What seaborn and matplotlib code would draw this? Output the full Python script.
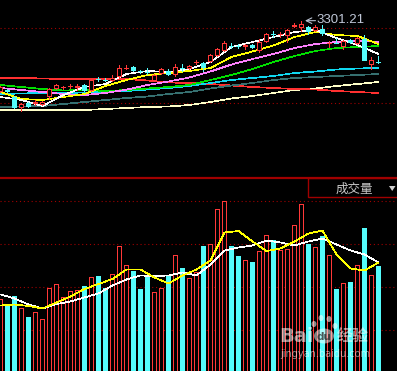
import numpy as np
import pandas as pd
import matplotlib
matplotlib.use("Agg")
import matplotlib.pyplot as plt
import seaborn as sns
from matplotlib.patches import Rectangle, Ellipse, Polygon
from matplotlib.lines import Line2D

# ---------------- data ----------------
opens = [3088, 3094, 3073, 3040, 3055, 3052, 3049, 3073, 3097, 3100, 3103, 3100, 3109, 3091,
         3127, 3124, 3121, 3133, 3158.5, 3163, 3151, 3149.5, 3121, 3142, 3151, 3139, 3160, 3157,
         3175, 3175, 3178, 3196, 3211, 3227.5, 3227.5, 3223, 3229, 3211, 3238, 3262, 3259, 3256,
         3283, 3280, 3283, 3271, 3277, 3232, 3235, 3223, 3244, 3232, 3247, 3169, 3179.5]
closes = [3103, 3088, 3040, 3052, 3043, 3058, 3058, 3097, 3109, 3103, 3106, 3106, 3091, 3124,
          3124, 3121, 3130, 3160, 3161.5, 3151, 3148, 3146.5, 3139, 3157, 3139, 3163, 3157, 3166,
          3178, 3160, 3199, 3217, 3235, 3224.5, 3224.5, 3229, 3220, 3238, 3262, 3259, 3262, 3274,
          3289, 3292, 3268, 3283, 3262, 3235, 3232, 3241, 3235, 3250, 3181, 3184, 3176.5]
highs = [3106, 3097, 3076, 3055, 3058, 3064, 3061, 3100, 3112, 3106, 3112, 3112, 3112, 3127,
         3133, 3130, 3139, 3169, 3169, 3166, 3154, 3160, 3142, 3160, 3157, 3172, 3172, 3169,
         3184, 3178, 3202, 3220, 3241, 3235, 3232, 3232, 3232, 3247, 3265, 3271, 3268, 3277,
         3295, 3301.21, 3286, 3289, 3289, 3241, 3250, 3244, 3247, 3253, 3259, 3193, 3196]
lows = [3085, 3085, 3037, 3028, 3040, 3046, 3046, 3064, 3094, 3094, 3097, 3091, 3088, 3088,
        3118, 3118, 3118, 3130, 3154, 3148, 3142, 3139, 3118, 3139, 3136, 3133, 3148, 3154,
        3169, 3148, 3175, 3193, 3208, 3217, 3217, 3214, 3217, 3205, 3235, 3250, 3250, 3235,
        3280, 3268, 3259, 3268, 3256, 3220, 3232, 3214, 3232, 3229, 3181, 3154, 3172]
volumes = [740, 670, 770, 650, 560, 610, 540, 850, 890, 760, 820, 830, 870, 960, 970, 850,
           990, 1270, 1080, 1020, 840, 960, 810, 850, 970, 1180, 1050, 950, 1010, 1270, 1290,
           1640, 1720, 1270, 1170, 1130, 1110, 1220, 1380, 1330, 1230, 1240, 1480, 1690, 1290,
           1260, 1370, 1180, 840, 900, 910, 1080, 1450, 980, 1070]

ma_idx = list(range(0, 55, 3))
ma5 = [3073, 3064, 3046, 3079, 3103, 3112, 3142, 3151, 3148, 3157, 3178, 3223, 3238, 3253,
       3268, 3274, 3250, 3229, 3202]
ma10 = [3088, 3067, 3064, 3073, 3082, 3106, 3124, 3139, 3145, 3151, 3160, 3193, 3209.5,
        3227.5, 3253, 3268, 3259, 3256, 3232]
ma20 = [3100, 3094, 3088, 3082, 3079, 3085, 3095, 3109, 3119.5, 3131.5, 3149.5, 3170.5, 3187,
        3202, 3220, 3232, 3238, 3242.5, 3238]
ma30 = [3109, 3103, 3097, 3092.5, 3094, 3091, 3094, 3098.5, 3103, 3109, 3124, 3139, 3157, 3178,
        3196, 3211, 3220, 3223, 3226]
ma60 = [3082, 3083.5, 3085, 3085, 3086.5, 3088, 3091, 3095.5, 3100, 3106, 3115, 3124, 3130,
        3136, 3145, 3149.5, 3155.5, 3158.5, 3160]
ma120 = [3043, 3044.5, 3046, 3052, 3058, 3064, 3070, 3074.5, 3082, 3088, 3098.5, 3107.5, 3115,
         3124, 3130, 3133, 3136, 3139, 3142]
ma250 = [3130, 3130, 3128.5, 3127, 3127, 3127, 3127, 3122.5, 3116.5, 3115, 3112, 3107.5, 3103,
         3100, 3097, 3095.5, 3091, 3088, 3085]
ma_long = [3034, 3034, 3034, 3034, 3034, 3037, 3040, 3043, 3044.5, 3049, 3058, 3068.5, 3076,
           3085, 3094, 3098.5, 3106, 3112, 3118]

vol_idx = list(range(0, 55, 2))
vol_ma5 = [780, 740, 680, 640, 685, 710, 750, 790, 870, 930, 970, 965, 970, 1000, 970, 1080,
           1220, 1250, 1270, 1320, 1300, 1270, 1310, 1340, 1280, 1220, 1180, 1100]
vol_ma10 = [670, 680, 665, 640, 700, 760, 835, 885, 935, 1030, 1030, 950, 890, 970, 1030, 1120,
            1400, 1415, 1310, 1215, 1240, 1310, 1390, 1420, 1180, 1040, 1020, 1100]

price_grid = [3280, 3055]
vol_grid = [1720, 1290, 860, 430]
high_label = "3301.21"
panel_label = "成交量"

# ---------------- style ----------------
sns.set_style("dark", rc={"axes.facecolor": "black", "figure.facecolor": "black"})
plt.rcParams['font.family'] = ['Noto Sans CJK SC', 'DejaVu Sans']

RED = '#ff3838'
CYAN = '#54fcfc'
GRID = '#a00000'
LLW = 0.5   # MA line width (thin, aliased)

W, H = 397, 371
fig = plt.figure(figsize=(W / 100, H / 100), dpi=100)
fig.patch.set_facecolor('black')
ax1 = fig.add_axes([0, 1 - 178 / H, 1, 178 / H])
ax2 = fig.add_axes([0, 0, 1, 193 / H])
px = 1 / 7.0          # one pixel in x units
py1 = 3.0             # one pixel in price units
py2 = 10.0            # one pixel in volume units
for ax in (ax1, ax2):
    ax.set_facecolor('black')
    ax.set_xlim(-0.5 * px, (W - 0.5) * px)
    ax.axis('off')
ax1.set_ylim(2830, 3364)
ax2.set_ylim(15, 1945)

o = np.array(opens, float); c = np.array(closes, float)
h = np.array(highs, float); l = np.array(lows, float)
v = np.array(volumes, float)
x = np.arange(len(o))
up = c >= o

# grid lines
for g in price_grid:
    ax1.axhline(g, color=GRID, lw=0.8, ls=(0, (1, 2.5)), zorder=0)
for g in vol_grid:
    ax2.axhline(g, color=GRID, lw=0.8, ls=(0, (1, 2.5)), zorder=0)

# moving averages (price)
lines = [(ma_long, '#ffffc8'), (ma250, '#ff3030'), (ma120, '#367070'), (ma60, '#10d8f0'),
         (ma30, '#00e000'), (ma20, '#ff80ff'), (ma10, '#ffff00'), (ma5, '#ffffff')]
for vals, col in lines:
    df = pd.DataFrame({'i': ma_idx, 'p': vals})
    sns.lineplot(data=df, x='i', y='p', ax=ax1, color=col, lw=LLW, estimator=None,
                 sort=False, legend=False, zorder=2, antialiased=False)

# candles
for i in x:
    col = RED if up[i] else CYAN
    top, bot = max(o[i], c[i]), min(o[i], c[i])
    ax1.bar(i, h[i] - l[i], bottom=l[i], width=1 * px, color=col, lw=0, zorder=3,
            antialiased=False)
    if top - bot <= 3.5:
        ax1.bar(i, py1, bottom=(top + bot) / 2 - py1 / 2, width=5 * px, color=col, lw=0,
                zorder=4, antialiased=False)
    else:
        ax1.bar(i, top - bot, bottom=bot, width=5 * px, color=col, lw=0, zorder=4,
                antialiased=False)
        if up[i]:
            ax1.bar(i, top - bot - 2 * py1, bottom=bot + py1, width=3 * px, color='black',
                    lw=0, zorder=5, antialiased=False)

# high annotation
ax1.annotate('', xy=(43.5, 3302), xytext=(45.0, 3302),
             arrowprops=dict(arrowstyle='->', color='#b8c0d0', lw=0.8, shrinkA=0, shrinkB=0),
             zorder=6)
ax1.text(45.1, 3305, high_label, color='#c0c8d8', fontsize=9.5, family='Liberation Sans',
         ha='left', va='center', zorder=6)

# volume bars
ax2.bar(x, v, width=5 * px, color=[RED if u else CYAN for u in up], lw=0, zorder=2,
        antialiased=False)
ax2.bar(x[up], v[up] - py2, width=3 * px, color='black', lw=0, zorder=3, antialiased=False)
for vals, col in [(vol_ma5, '#ffffff'), (vol_ma10, '#ffff00')]:
    df = pd.DataFrame({'i': vol_idx, 'v': vals})
    sns.lineplot(data=df, x='i', y='v', ax=ax2, color=col, lw=LLW, estimator=None,
                 sort=False, legend=False, zorder=5, antialiased=False)

# separator and label box (figure pixel coordinates)
def fx(p): return p / W
def fy(p): return 1 - p / H
fig.add_artist(Line2D([0, 1], [fy(178), fy(178)], color='#a00000', lw=1.6))
fig.add_artist(Rectangle((fx(308), fy(197)), fx(100), 19 / H, facecolor='black',
                         edgecolor='#a00000', lw=1.0))
fig.text(fx(354), fy(189), panel_label, color='#c8c8c8', fontsize=9, ha='center', va='center')
fig.add_artist(Polygon([(fx(389), fy(186)), (fx(395.5), fy(186)), (fx(392.2), fy(191))],
                       closed=True, facecolor='#d0d0d0', edgecolor='none'))

# watermark
wm = dict(color='white', alpha=0.55, zorder=10)
fig.text(fx(279), fy(337), 'Bai', fontsize=14, fontweight='bold', family='DejaVu Sans',
         ha='left', va='center', **wm)
for cx, cy, rw, rh in [(314, 324, 5, 6), (321, 318, 5, 6), (329, 319, 5, 6), (335, 326, 5, 6)]:
    fig.add_artist(Ellipse((fx(cx), fy(cy)), rw / W, rh / H, facecolor='white', alpha=0.55,
                           edgecolor='none'))
fig.add_artist(Ellipse((fx(324), fy(336)), 20 / W, 15 / H, facecolor='white', alpha=0.5,
                       edgecolor='none'))
fig.text(fx(324), fy(337), 'du', fontsize=7.5, fontweight='bold', family='DejaVu Sans',
         color='#303030', alpha=0.8, ha='center', va='center', zorder=11)
fig.text(fx(337), fy(336), '经验', fontsize=11.5, fontweight='bold', ha='left', va='center', **wm)
fig.text(fx(280), fy(354), 'jingyan.baidu.com', fontsize=7, family='DejaVu Sans',
         ha='left', va='center', **wm)

fig.savefig('out.png', dpi=100, facecolor='black')
